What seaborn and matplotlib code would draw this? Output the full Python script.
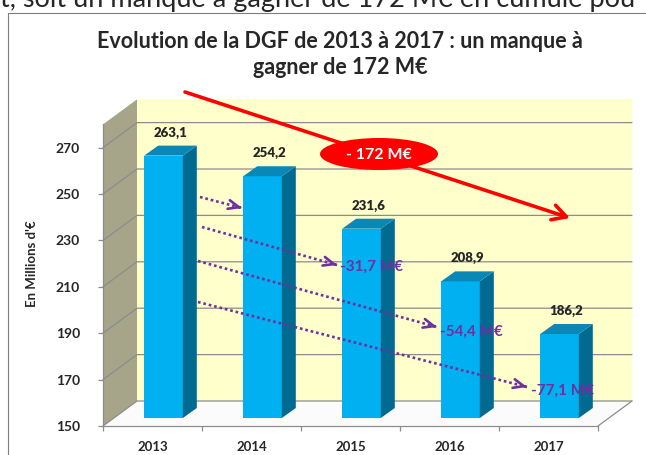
import matplotlib
matplotlib.use('Agg')
import matplotlib.pyplot as plt
from matplotlib.patches import Polygon, Ellipse
from matplotlib.lines import Line2D
import seaborn as sns
import numpy as np

# --- Donnees ---
annees = ['2013', '2014', '2015', '2016', '2017']
dgf = [263.1, 254.2, 231.6, 208.9, 186.2]
etiquettes = ['263,1', '254,2', '231,6', '208,9', '186,2']
graduations = [150, 170, 190, 210, 230, 250, 270]
ecarts = ['-31,7 M€', '-54,4 M€', '-77,1 M€']
ecart_total = '- 172 M€'

titre_1 = "Evolution de la DGF de 2013 à 2017 : un manque à"
titre_2 = "gagner de 172 M€"
texte_haut = "t, soit un manque à gagner de 172 M€ en cumulé pou"

# --- Style ---
sns.set_style('white')
plt.rcParams['font.family'] = ['Lato', 'DejaVu Sans']

W, H = 646, 455
X0, X1 = 103, 598          # bord avant du sol (pixels)
Y0 = 426                   # bord avant du sol (valeur 150)
VMIN, VMAX = 150, 280
PX_UNITE = 2.32            # pixels par unite de valeur
PX_CAT = (X1 - X0) / len(annees)
PROF = (34, 25)            # profondeur du decor 3D (pixels)
DECAL_BARRE = (11, 8)      # position des barres dans la profondeur
PROF_BARRE = (14, 10)
LARGEUR = 0.39

BLEU = '#00B0F0'
BLEU_HAUT = '#0988B8'
BLEU_COTE = '#006A90'
VIOLET = '#7030A0'
GRIS = '#8C8C8C'


def px(x, y):
  # coordonnees image (origine en haut) -> figure pixels
  return (x, H - y)


fig = plt.figure(figsize=(W / 100, H / 100), dpi=100)
fig.patch.set_facecolor('white')

hauteur_ax = (VMAX - VMIN) * PX_UNITE / H

# Plan avant : murs, sol, axes
ax = fig.add_axes([X0 / W, (H - Y0) / H, (X1 - X0) / W, hauteur_ax])
ax.set_xlim(-0.5, len(annees) - 0.5)
ax.set_ylim(VMIN, VMAX)
ax.patch.set_visible(False)

ddx = PROF[0] / PX_CAT
ddy = PROF[1] / PX_UNITE
xg, xd = -0.5, len(annees) - 0.5

mur_fond = Polygon([(xg + ddx, VMIN + ddy), (xd + ddx, VMIN + ddy),
                    (xd + ddx, VMAX + ddy), (xg + ddx, VMAX + ddy)],
                   closed=True, fc='#FFFFCC', ec='none', zorder=0.1, clip_on=False)
mur_gauche = Polygon([(xg, VMIN), (xg, VMAX), (xg + ddx, VMAX + ddy), (xg + ddx, VMIN + ddy)],
                     closed=True, fc='#A6A58A', ec='none', zorder=0.1, clip_on=False)
sol = Polygon([(xg, VMIN), (xd, VMIN), (xd + ddx, VMIN + ddy), (xg + ddx, VMIN + ddy)],
              closed=True, fc='#FBFBFB', ec='none', zorder=0.1, clip_on=False)
for p in (mur_fond, mur_gauche, sol):
  ax.add_patch(p)

for t in graduations:
  ax.plot([xg, xg + ddx, xd + ddx], [t, t + ddy, t + ddy], color=GRIS, lw=0.9,
          zorder=0.2, clip_on=False)
ax.plot([xd, xd + ddx], [VMIN, VMIN + ddy], color=GRIS, lw=0.9, zorder=0.2, clip_on=False)

for s in ['top', 'right']:
  ax.spines[s].set_visible(False)
for s in ['left', 'bottom']:
  ax.spines[s].set_color(GRIS)
  ax.spines[s].set_linewidth(0.9)

ax.set_yticks(graduations)
ax.set_yticklabels([str(g) for g in graduations], fontweight='bold', fontsize=10)
ax.tick_params(axis='y', length=3.6, width=0.9, color=GRIS, pad=13, left=True)

ax.set_xticks(range(len(annees)))
ax.set_xticklabels(annees, fontweight='bold', fontsize=9.5)
ax.set_xticks(np.arange(len(annees) + 1) - 0.5, minor=True)
ax.tick_params(axis='x', which='major', length=0, pad=11)
ax.tick_params(axis='x', which='minor', length=3.6, width=0.9, color=GRIS, bottom=True)

# Plan des barres (decale dans la profondeur)
axb = fig.add_axes([(X0 + DECAL_BARRE[0]) / W, (H - Y0 + DECAL_BARRE[1]) / H,
                    (X1 - X0) / W, hauteur_ax])
sns.barplot(x=annees, y=dgf, ax=axb, color=BLEU, saturation=1, width=LARGEUR,
            errorbar=None, linewidth=0)
axb.set_xlim(-0.5, len(annees) - 0.5)
axb.set_ylim(VMIN, VMAX)
axb.axis('off')

bdx = PROF_BARRE[0] / PX_CAT
bdy = PROF_BARRE[1] / PX_UNITE
for i, v in enumerate(dgf):
  g, d = i - LARGEUR / 2, i + LARGEUR / 2
  cote = Polygon([(d, VMIN), (d, v), (d + bdx, v + bdy), (d + bdx, VMIN + bdy)],
                 closed=True, fc=BLEU_COTE, ec='none', zorder=2, clip_on=False)
  haut = Polygon([(g, v), (d, v), (d + bdx, v + bdy), (g + bdx, v + bdy)],
                 closed=True, fc=BLEU_HAUT, ec='none', zorder=2, clip_on=False)
  axb.add_patch(cote)
  axb.add_patch(haut)
  axb.annotate(etiquettes[i], xy=(i, v), xytext=(7, 23), textcoords='offset pixels',
               ha='center', va='center', fontweight='heavy', fontsize=9.5, zorder=5)

# --- Fleches violettes (ecarts par rapport a 2013) ---
fleches = [((200, 197), (242, 208)),
           ((202, 227), (337, 265)),
           ((198, 261), (437, 327)),
           ((198, 302), (527, 387))]
pos_ecarts = [(340, 267), (440, 332), (531, 391)]

for debut, fin in fleches:
  axb.annotate('', xy=px(*fin), xytext=px(*debut), xycoords='figure pixels',
               arrowprops=dict(arrowstyle='-', ls=(0, (1, 1.1)), lw=1.9, color=VIOLET,
                               shrinkA=0, shrinkB=0, capstyle='butt'), zorder=6)
  dx, dy = fin[0] - debut[0], fin[1] - debut[1]
  n = np.hypot(dx, dy)
  avant = (fin[0] - dx / n * 2, fin[1] - dy / n * 2)
  axb.annotate('', xy=px(*fin), xytext=px(*avant), xycoords='figure pixels',
               arrowprops=dict(arrowstyle='->,head_length=0.75,head_width=0.32', lw=1.9,
                               color=VIOLET, shrinkA=0, shrinkB=0), zorder=6)

for txt, (x, y) in zip(ecarts, pos_ecarts):
  fig.text(x / W, 1 - y / H, txt, color=VIOLET, fontsize=11, fontweight='bold',
           ha='left', va='center', zorder=12)

# --- Fleche rouge et ellipse ---
axb.annotate('', xy=px(570, 218), xytext=px(185, 92), xycoords='figure pixels',
             arrowprops=dict(arrowstyle='->,head_length=1.0,head_width=0.55', lw=2.6,
                             color='#FF0000', shrinkA=0, shrinkB=0), zorder=7)
fig.add_artist(Ellipse((379 / W, 1 - 154 / H), 118 / W, 32 / H, transform=fig.transFigure,
                       fc='#FF0000', ec='none', zorder=10))
fig.text(379 / W, 1 - 155 / H, ecart_total, color='white', fontsize=11.5, fontweight='bold',
         ha='center', va='center', zorder=11)

# --- Titres et cadre ---
fig.text(340 / W, 1 - 42 / H, titre_1, fontsize=15.5, fontweight='bold', ha='center', va='center')
fig.text(340 / W, 1 - 68 / H, titre_2, fontsize=15.5, fontweight='bold', ha='center', va='center')
fig.text(32 / W, 1 - 264 / H, "En Millions d'€", rotation=90, fontsize=9.5, fontweight='bold',
         ha='center', va='center')
fig.text(0, 1 - 7 / H, texte_haut, fontsize=19.5, ha='left', va='baseline')
fig.add_artist(Line2D([8 / W, 8 / W, 1], [0, 1 - 13 / H, 1 - 13 / H], transform=fig.transFigure,
                      color='#7F7F7F', lw=0.8))

fig.savefig('out.png', dpi=100, facecolor='white')
